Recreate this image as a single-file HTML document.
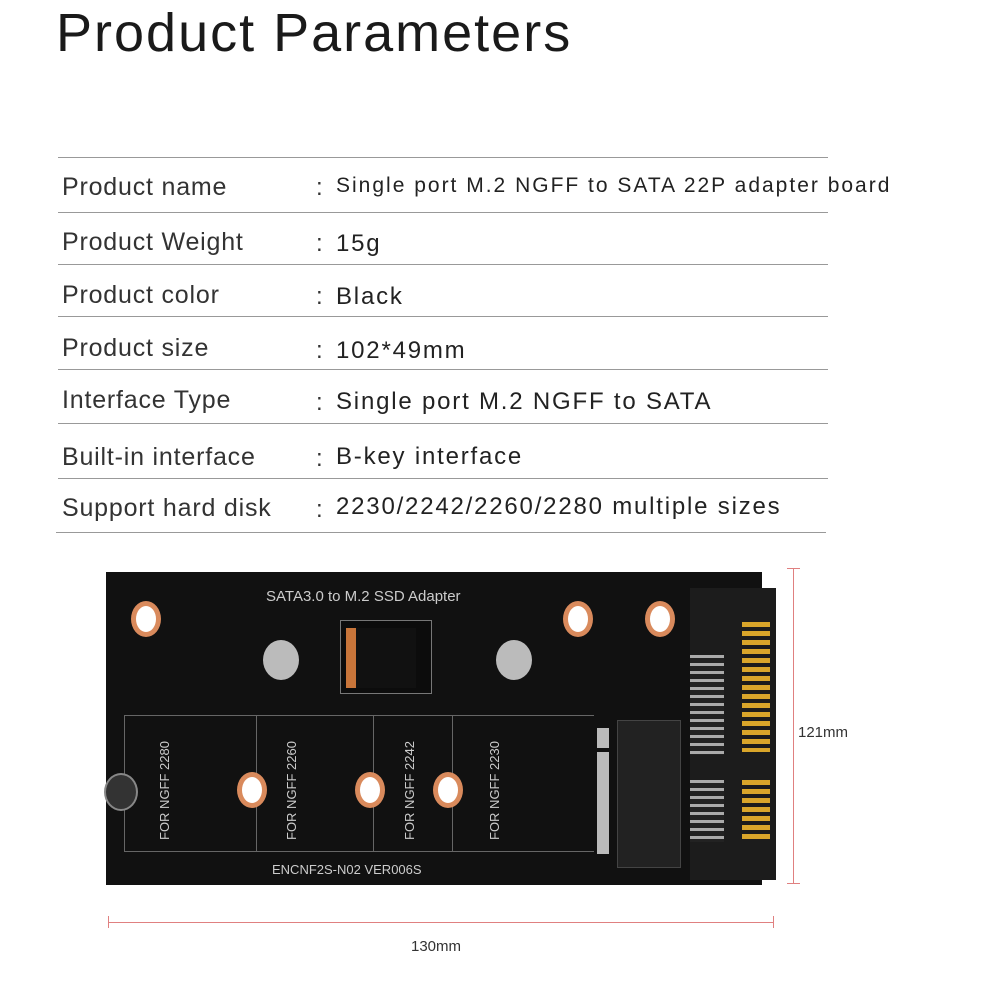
<!DOCTYPE html><html><head><style>
body{margin:0;width:1000px;height:1000px;background:#fff;position:relative;overflow:hidden;font-family:"Liberation Sans",sans-serif}
.a{position:absolute}
h1{position:absolute;left:56px;top:2px;margin:0;font-weight:normal;font-size:54px;color:#1a1a1a;letter-spacing:2px}
.ln{position:absolute;left:58px;width:770px;height:1px;background:#999}
.l{position:absolute;left:62px;font-size:25px;color:#333;letter-spacing:0.8px}
.c{position:absolute;left:316px;font-size:24px;color:#333}
.v{position:absolute;left:336px;font-size:24px;color:#222;letter-spacing:1.8px}
.hole{position:absolute;width:20px;height:26px;border-radius:50%;background:#fff;border:5px solid #d98a5c}
.t{position:absolute;color:#ccc;font-size:13px}
.vt{position:absolute;color:#ccc;font-size:13px;transform:rotate(-90deg);transform-origin:left top;white-space:nowrap}
</style></head><body>
<h1>Product Parameters</h1>
<div class="ln" style="top:157px"></div><div class="ln" style="top:212px"></div><div class="ln" style="top:264px"></div><div class="ln" style="top:316px"></div><div class="ln" style="top:369px"></div><div class="ln" style="top:423px"></div><div class="ln" style="top:478px"></div><div class="ln" style="top:532px;left:56px"></div>
<div class="l" style="top:173px">Product name</div><div class="c" style="top:174px">:</div><div class="v" style="top:174px;font-size:21px;letter-spacing:2px">Single port M.2 NGFF to SATA 22P adapter board</div>
<div class="l" style="top:228px">Product Weight</div><div class="c" style="top:230px">:</div><div class="v" style="top:230px">15g</div>
<div class="l" style="top:281px">Product color</div><div class="c" style="top:283px">:</div><div class="v" style="top:283px">Black</div>
<div class="l" style="top:334px">Product size</div><div class="c" style="top:337px">:</div><div class="v" style="top:337px">102*49mm</div>
<div class="l" style="top:386px">Interface Type</div><div class="c" style="top:389px">:</div><div class="v" style="top:388px">Single port M.2 NGFF to SATA</div>
<div class="l" style="top:443px">Built-in interface</div><div class="c" style="top:445px">:</div><div class="v" style="top:443px">B-key interface</div>
<div class="l" style="top:494px">Support hard disk</div><div class="c" style="top:496px">:</div><div class="v" style="top:493px">2230/2242/2260/2280 multiple sizes</div>

<div class="a" style="left:106px;top:572px;width:656px;height:313px;background:#111"></div>
<div class="a" style="left:690px;top:588px;width:86px;height:292px;background:#1c1c1c"></div>
<div class="a" style="left:742px;top:622px;width:28px;height:130px;background:repeating-linear-gradient(#d9a52a 0 5px,#1c1c1c 5px 9px)"></div>
<div class="a" style="left:742px;top:780px;width:28px;height:62px;background:repeating-linear-gradient(#d9a52a 0 5px,#1c1c1c 5px 9px)"></div>
<div class="a" style="left:690px;top:655px;width:34px;height:100px;background:repeating-linear-gradient(#aaa 0 3px,#222 3px 8px)"></div>
<div class="a" style="left:690px;top:780px;width:34px;height:62px;background:repeating-linear-gradient(#aaa 0 3px,#222 3px 8px)"></div>
<div class="a" style="left:617px;top:720px;width:62px;height:146px;background:#222;border:1px solid #444"></div>
<div class="a" style="left:597px;top:752px;width:12px;height:102px;background:#bbb"></div>
<div class="a" style="left:597px;top:728px;width:12px;height:20px;background:#bbb"></div>
<div class="a" style="left:340px;top:620px;width:90px;height:72px;border:1px solid #777;background:#0c0c0c"></div>
<div class="a" style="left:346px;top:628px;width:10px;height:60px;background:#c8753a"></div>
<div class="a" style="left:356px;top:628px;width:60px;height:60px;background:#111"></div>
<div class="a" style="left:263px;top:640px;width:36px;height:40px;border-radius:50%;background:#bbb"></div>
<div class="a" style="left:496px;top:640px;width:36px;height:40px;border-radius:50%;background:#bbb"></div>
<div class="a" style="left:124px;top:715px;width:470px;height:1px;background:#666"></div>
<div class="a" style="left:124px;top:715px;width:1px;height:136px;background:#666"></div>
<div class="a" style="left:124px;top:851px;width:470px;height:1px;background:#666"></div>
<div class="a" style="left:256px;top:715px;width:1px;height:136px;background:#666"></div>
<div class="a" style="left:373px;top:715px;width:1px;height:136px;background:#666"></div>
<div class="a" style="left:452px;top:715px;width:1px;height:136px;background:#666"></div>
<div class="hole" style="left:131px;top:601px"></div><div class="hole" style="left:563px;top:601px"></div><div class="hole" style="left:645px;top:601px"></div>
<div class="hole" style="left:237px;top:772px"></div><div class="hole" style="left:355px;top:772px"></div><div class="hole" style="left:433px;top:772px"></div>
<div class="a" style="left:104px;top:773px;width:30px;height:34px;border-radius:50%;background:#333;border:2px solid #888"></div>
<div class="t" style="left:266px;top:588px;font-size:15px">SATA3.0 to M.2 SSD Adapter</div>
<div class="t" style="left:272px;top:862px;font-size:13px">ENCNF2S-N02 VER006S</div>
<div class="vt" style="left:157px;top:840px">FOR NGFF 2280</div>
<div class="vt" style="left:284px;top:840px">FOR NGFF 2260</div>
<div class="vt" style="left:402px;top:840px">FOR NGFF 2242</div>
<div class="vt" style="left:487px;top:840px">FOR NGFF 2230</div>
<div class="a" style="left:793px;top:568px;width:1px;height:316px;background:#e08080"></div>
<div class="a" style="left:787px;top:568px;width:13px;height:1px;background:#e08080"></div>
<div class="a" style="left:787px;top:883px;width:13px;height:1px;background:#e08080"></div>
<div class="a" style="left:108px;top:922px;width:666px;height:1px;background:#e08080"></div>
<div class="a" style="left:108px;top:916px;width:1px;height:12px;background:#e08080"></div>
<div class="a" style="left:773px;top:916px;width:1px;height:12px;background:#e08080"></div>
<div class="a" style="left:798px;top:724px;font-size:15px;color:#333">121mm</div>
<div class="a" style="left:411px;top:938px;font-size:15px;color:#333">130mm</div>
</body></html>
